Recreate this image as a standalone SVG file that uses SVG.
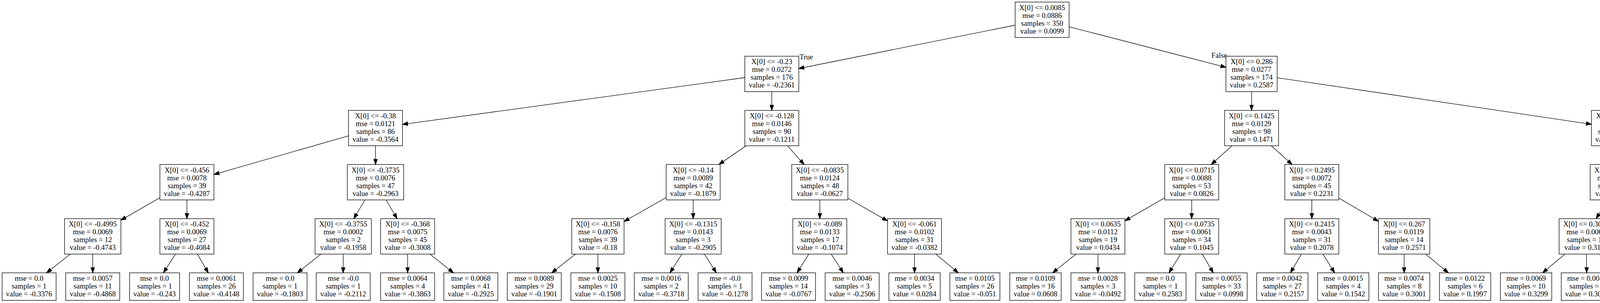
<svg xmlns="http://www.w3.org/2000/svg" width="5061" height="776" viewBox="0 0 5061 776">
<style>
.n rect{fill:none;stroke:#000;stroke-width:1.33}
.n text{font-family:"Liberation Serif","Times New Roman",serif;font-size:18.67px;text-anchor:middle;fill:#000}
.lbl{font-family:"Liberation Serif","Times New Roman",serif;font-size:18.67px;text-anchor:middle;fill:#000}
#edges line{stroke:#000;stroke-width:1.33;fill:none;marker-end:url(#ah)}
</style>
<defs>
<marker id="ah" markerUnits="userSpaceOnUse" markerWidth="16" markerHeight="12" refX="13.33" refY="4.67" orient="auto" overflow="visible">
<path d="M0,0 L13.33,4.67 L0,9.33 Z" fill="#000" stroke="#000" stroke-width="1.33"/>
</marker>
</defs>
<rect x="0" y="0" width="5061" height="776" fill="#fff"/>
<g id="edges">
<line x1="2598.7" y1="64.5" x2="2044.9" y2="175.5"/>
<line x1="2736.9" y1="68.54" x2="3138.45" y2="172.38"/>
<line x1="1906.7" y1="198.77" x2="1030.4" y2="318.56"/>
<line x1="1975.8" y1="234.67" x2="1975.8" y2="282.67"/>
<line x1="3204" y1="234.67" x2="3204" y2="282.67"/>
<line x1="3269.55" y1="199.04" x2="4074.05" y2="318.24"/>
<line x1="892.2" y1="347.85" x2="547.6" y2="446.82"/>
<line x1="961.3" y1="373.33" x2="961.3" y2="421.33"/>
<line x1="1910" y1="373.33" x2="1840.3" y2="421.33"/>
<line x1="2015.98" y1="373.33" x2="2058.5" y2="421.33"/>
<line x1="3153.9" y1="373.33" x2="3100.8" y2="421.33"/>
<line x1="3254.4" y1="373.33" x2="3307.9" y2="421.33"/>
<line x1="4139.9" y1="373.33" x2="4139.9" y2="421.33"/>
<line x1="4205.75" y1="347.65" x2="4535.4" y2="446.05"/>
<line x1="409.4" y1="506.41" x2="309.5" y2="563.87"/>
<line x1="478.5" y1="512" x2="478.5" y2="560"/>
<line x1="934.27" y1="512" x2="905.63" y2="560"/>
<line x1="988.17" y1="512" x2="1016.63" y2="560"/>
<line x1="1705.4" y1="505.96" x2="1597.55" y2="567.27"/>
<line x1="1774.5" y1="512" x2="1774.5" y2="560"/>
<line x1="2098.7" y1="512" x2="2098.7" y2="560"/>
<line x1="2170.55" y1="507.76" x2="2272.1" y2="565.8"/>
<line x1="2981.6" y1="506.6" x2="2879.8" y2="565.4"/>
<line x1="3050.7" y1="512" x2="3050.7" y2="560"/>
<line x1="3358.3" y1="512" x2="3358.3" y2="560"/>
<line x1="3427.4" y1="507.22" x2="3528.8" y2="566.71"/>
<line x1="4113.94" y1="512" x2="4086.46" y2="560"/>
<line x1="4165.92" y1="512" x2="4193.48" y2="560"/>
<line x1="4604.5" y1="512" x2="4604.5" y2="560"/>
<line x1="4673.6" y1="507.41" x2="4770.6" y2="564.59"/>
<line x1="180" y1="650.67" x2="119.23" y2="698.67"/>
<line x1="237.4" y1="650.67" x2="237.4" y2="698.67"/>
<line x1="449.33" y1="650.67" x2="418.44" y2="698.67"/>
<line x1="505.1" y1="650.67" x2="533.27" y2="698.67"/>
<line x1="821.63" y1="650.67" x2="761.3" y2="698.67"/>
<line x1="878.6" y1="650.67" x2="878.6" y2="698.67"/>
<line x1="1043.5" y1="650.67" x2="1043.5" y2="698.67"/>
<line x1="1100.54" y1="650.67" x2="1160.94" y2="698.67"/>
<line x1="1473.2" y1="650.67" x2="1412.4" y2="698.67"/>
<line x1="1530.6" y1="650.67" x2="1530.6" y2="698.67"/>
<line x1="1745.72" y1="650.67" x2="1715.23" y2="698.67"/>
<line x1="1803.28" y1="650.67" x2="1833.77" y2="698.67"/>
<line x1="2070.48" y1="650.67" x2="2040.6" y2="698.67"/>
<line x1="2127.87" y1="650.67" x2="2158.76" y2="698.67"/>
<line x1="2341.2" y1="650.67" x2="2341.2" y2="698.67"/>
<line x1="2395.63" y1="650.67" x2="2453.27" y2="698.67"/>
<line x1="2754.37" y1="650.67" x2="2694.71" y2="698.67"/>
<line x1="2810.7" y1="650.67" x2="2810.7" y2="698.67"/>
<line x1="3022.48" y1="650.67" x2="2992.6" y2="698.67"/>
<line x1="3077.58" y1="650.67" x2="3106.05" y2="698.67"/>
<line x1="3331.7" y1="650.67" x2="3303.53" y2="698.67"/>
<line x1="3386.63" y1="650.67" x2="3416.62" y2="698.67"/>
<line x1="3594.6" y1="650.67" x2="3594.6" y2="698.67"/>
<line x1="3649.59" y1="650.67" x2="3707.83" y2="698.67"/>
<line x1="4006.35" y1="650.67" x2="3949.01" y2="698.67"/>
<line x1="4061.2" y1="650.67" x2="4061.95" y2="698.67"/>
<line x1="4219.5" y1="650.67" x2="4219.5" y2="698.67"/>
<line x1="4274.35" y1="650.67" x2="4332.44" y2="698.67"/>
<line x1="4578.71" y1="650.67" x2="4551.4" y2="698.67"/>
<line x1="4633.78" y1="650.67" x2="4664.78" y2="698.67"/>
<line x1="4839.7" y1="650.67" x2="4839.7" y2="698.67"/>
<line x1="4893" y1="650.67" x2="4949.45" y2="698.67"/>
<text class="lbl" x="2064" y="152">True</text>
<text class="lbl" x="3121" y="148">False</text>
</g>
<g id="n0" class="n" transform="translate(2667.8,5.33)"><rect x="-69.1" y="0" width="138.2" height="90.67"/><text x="0" y="20.27">X[0] &lt;= 0.0085</text><text x="0" y="40.27">mse = 0.0886</text><text x="0" y="60.27">samples = 350</text><text x="0" y="80.27">value = 0.0099</text></g>
<g id="n1" class="n" transform="translate(1975.8,144)"><rect x="-69.1" y="0" width="138.2" height="90.67"/><text x="0" y="20.27">X[0] &lt;= -0.23</text><text x="0" y="40.27">mse = 0.0272</text><text x="0" y="60.27">samples = 176</text><text x="0" y="80.27">value = -0.2361</text></g>
<g id="n2" class="n" transform="translate(961.3,282.67)"><rect x="-69.1" y="0" width="138.2" height="90.67"/><text x="0" y="20.27">X[0] &lt;= -0.38</text><text x="0" y="40.27">mse = 0.0121</text><text x="0" y="60.27">samples = 86</text><text x="0" y="80.27">value = -0.3564</text></g>
<g id="n3" class="n" transform="translate(478.5,421.33)"><rect x="-69.1" y="0" width="138.2" height="90.67"/><text x="0" y="20.27">X[0] &lt;= -0.456</text><text x="0" y="40.27">mse = 0.0078</text><text x="0" y="60.27">samples = 39</text><text x="0" y="80.27">value = -0.4287</text></g>
<g id="n4" class="n" transform="translate(237.4,560)"><rect x="-72.1" y="0" width="144.2" height="90.67"/><text x="0" y="20.27">X[0] &lt;= -0.4995</text><text x="0" y="40.27">mse = 0.0069</text><text x="0" y="60.27">samples = 12</text><text x="0" y="80.27">value = -0.4743</text></g>
<g id="n5" class="n" transform="translate(74.5,698.67)"><rect x="-69.1" y="0" width="138.2" height="70.67"/><text x="0" y="20.27">mse = 0.0</text><text x="0" y="40.27">samples = 1</text><text x="0" y="60.27">value = -0.3376</text></g>
<g id="n6" class="n" transform="translate(237.4,698.67)"><rect x="-69.1" y="0" width="138.2" height="70.67"/><text x="0" y="20.27">mse = 0.0057</text><text x="0" y="40.27">samples = 11</text><text x="0" y="60.27">value = -0.4868</text></g>
<g id="n7" class="n" transform="translate(478.5,560)"><rect x="-69.1" y="0" width="138.2" height="90.67"/><text x="0" y="20.27">X[0] &lt;= -0.452</text><text x="0" y="40.27">mse = 0.0069</text><text x="0" y="60.27">samples = 27</text><text x="0" y="80.27">value = -0.4084</text></g>
<g id="n8" class="n" transform="translate(395.7,698.67)"><rect x="-64" y="0" width="128" height="70.67"/><text x="0" y="20.27">mse = 0.0</text><text x="0" y="40.27">samples = 1</text><text x="0" y="60.27">value = -0.243</text></g>
<g id="n9" class="n" transform="translate(554,698.67)"><rect x="-69.1" y="0" width="138.2" height="70.67"/><text x="0" y="20.27">mse = 0.0061</text><text x="0" y="40.27">samples = 26</text><text x="0" y="60.27">value = -0.4148</text></g>
<g id="n10" class="n" transform="translate(961.3,421.33)"><rect x="-72.1" y="0" width="144.2" height="90.67"/><text x="0" y="20.27">X[0] &lt;= -0.3735</text><text x="0" y="40.27">mse = 0.0076</text><text x="0" y="60.27">samples = 47</text><text x="0" y="80.27">value = -0.2963</text></g>
<g id="n11" class="n" transform="translate(878.6,560)"><rect x="-72.1" y="0" width="144.2" height="90.67"/><text x="0" y="20.27">X[0] &lt;= -0.3755</text><text x="0" y="40.27">mse = 0.0002</text><text x="0" y="60.27">samples = 2</text><text x="0" y="80.27">value = -0.1958</text></g>
<g id="n12" class="n" transform="translate(716.9,698.67)"><rect x="-69.1" y="0" width="138.2" height="70.67"/><text x="0" y="20.27">mse = 0.0</text><text x="0" y="40.27">samples = 1</text><text x="0" y="60.27">value = -0.1803</text></g>
<g id="n13" class="n" transform="translate(878.6,698.67)"><rect x="-69.1" y="0" width="138.2" height="70.67"/><text x="0" y="20.27">mse = -0.0</text><text x="0" y="40.27">samples = 1</text><text x="0" y="60.27">value = -0.2112</text></g>
<g id="n14" class="n" transform="translate(1043.5,560)"><rect x="-69.1" y="0" width="138.2" height="90.67"/><text x="0" y="20.27">X[0] &lt;= -0.368</text><text x="0" y="40.27">mse = 0.0075</text><text x="0" y="60.27">samples = 45</text><text x="0" y="80.27">value = -0.3008</text></g>
<g id="n15" class="n" transform="translate(1043.5,698.67)"><rect x="-69.1" y="0" width="138.2" height="70.67"/><text x="0" y="20.27">mse = 0.0064</text><text x="0" y="40.27">samples = 4</text><text x="0" y="60.27">value = -0.3863</text></g>
<g id="n16" class="n" transform="translate(1205.4,698.67)"><rect x="-69.1" y="0" width="138.2" height="70.67"/><text x="0" y="20.27">mse = 0.0068</text><text x="0" y="40.27">samples = 41</text><text x="0" y="60.27">value = -0.2925</text></g>
<g id="n17" class="n" transform="translate(1975.8,282.67)"><rect x="-69.1" y="0" width="138.2" height="90.67"/><text x="0" y="20.27">X[0] &lt;= -0.128</text><text x="0" y="40.27">mse = 0.0146</text><text x="0" y="60.27">samples = 90</text><text x="0" y="80.27">value = -0.1211</text></g>
<g id="n18" class="n" transform="translate(1774.5,421.33)"><rect x="-69.1" y="0" width="138.2" height="90.67"/><text x="0" y="20.27">X[0] &lt;= -0.14</text><text x="0" y="40.27">mse = 0.0089</text><text x="0" y="60.27">samples = 42</text><text x="0" y="80.27">value = -0.1879</text></g>
<g id="n19" class="n" transform="translate(1530.6,560)"><rect x="-66.95" y="0" width="133.9" height="90.67"/><text x="0" y="20.27">X[0] &lt;= -0.158</text><text x="0" y="40.27">mse = 0.0076</text><text x="0" y="60.27">samples = 39</text><text x="0" y="80.27">value = -0.18</text></g>
<g id="n20" class="n" transform="translate(1367.7,698.67)"><rect x="-69.1" y="0" width="138.2" height="70.67"/><text x="0" y="20.27">mse = 0.0089</text><text x="0" y="40.27">samples = 29</text><text x="0" y="60.27">value = -0.1901</text></g>
<g id="n21" class="n" transform="translate(1530.6,698.67)"><rect x="-69.1" y="0" width="138.2" height="70.67"/><text x="0" y="20.27">mse = 0.0025</text><text x="0" y="40.27">samples = 10</text><text x="0" y="60.27">value = -0.1508</text></g>
<g id="n22" class="n" transform="translate(1774.5,560)"><rect x="-71.85" y="0" width="143.7" height="90.67"/><text x="0" y="20.27">X[0] &lt;= -0.1315</text><text x="0" y="40.27">mse = 0.0143</text><text x="0" y="60.27">samples = 3</text><text x="0" y="80.27">value = -0.2905</text></g>
<g id="n23" class="n" transform="translate(1692.8,698.67)"><rect x="-69.1" y="0" width="138.2" height="70.67"/><text x="0" y="20.27">mse = 0.0016</text><text x="0" y="40.27">samples = 2</text><text x="0" y="60.27">value = -0.3718</text></g>
<g id="n24" class="n" transform="translate(1856.2,698.67)"><rect x="-69.1" y="0" width="138.2" height="70.67"/><text x="0" y="20.27">mse = -0.0</text><text x="0" y="40.27">samples = 1</text><text x="0" y="60.27">value = -0.1278</text></g>
<g id="n25" class="n" transform="translate(2098.7,421.33)"><rect x="-71.85" y="0" width="143.7" height="90.67"/><text x="0" y="20.27">X[0] &lt;= -0.0835</text><text x="0" y="40.27">mse = 0.0124</text><text x="0" y="60.27">samples = 48</text><text x="0" y="80.27">value = -0.0627</text></g>
<g id="n26" class="n" transform="translate(2098.7,560)"><rect x="-69.1" y="0" width="138.2" height="90.67"/><text x="0" y="20.27">X[0] &lt;= -0.089</text><text x="0" y="40.27">mse = 0.0133</text><text x="0" y="60.27">samples = 17</text><text x="0" y="80.27">value = -0.1074</text></g>
<g id="n27" class="n" transform="translate(2018.6,698.67)"><rect x="-69.1" y="0" width="138.2" height="70.67"/><text x="0" y="20.27">mse = 0.0099</text><text x="0" y="40.27">samples = 14</text><text x="0" y="60.27">value = -0.0767</text></g>
<g id="n28" class="n" transform="translate(2181.5,698.67)"><rect x="-69.1" y="0" width="138.2" height="70.67"/><text x="0" y="20.27">mse = 0.0046</text><text x="0" y="40.27">samples = 3</text><text x="0" y="60.27">value = -0.2506</text></g>
<g id="n29" class="n" transform="translate(2341.2,560)"><rect x="-69.1" y="0" width="138.2" height="90.67"/><text x="0" y="20.27">X[0] &lt;= -0.061</text><text x="0" y="40.27">mse = 0.0102</text><text x="0" y="60.27">samples = 31</text><text x="0" y="80.27">value = -0.0382</text></g>
<g id="n30" class="n" transform="translate(2341.2,698.67)"><rect x="-65.7" y="0" width="131.4" height="70.67"/><text x="0" y="20.27">mse = 0.0034</text><text x="0" y="40.27">samples = 5</text><text x="0" y="60.27">value = 0.0284</text></g>
<g id="n31" class="n" transform="translate(2495.7,698.67)"><rect x="-64.05" y="0" width="128.1" height="70.67"/><text x="0" y="20.27">mse = 0.0105</text><text x="0" y="40.27">samples = 26</text><text x="0" y="60.27">value = -0.051</text></g>
<g id="n32" class="n" transform="translate(3204,144)"><rect x="-65.55" y="0" width="131.1" height="90.67"/><text x="0" y="20.27">X[0] &lt;= 0.286</text><text x="0" y="40.27">mse = 0.0277</text><text x="0" y="60.27">samples = 174</text><text x="0" y="80.27">value = 0.2587</text></g>
<g id="n33" class="n" transform="translate(3204,282.67)"><rect x="-69.1" y="0" width="138.2" height="90.67"/><text x="0" y="20.27">X[0] &lt;= 0.1425</text><text x="0" y="40.27">mse = 0.0129</text><text x="0" y="60.27">samples = 98</text><text x="0" y="80.27">value = 0.1471</text></g>
<g id="n34" class="n" transform="translate(3050.7,421.33)"><rect x="-69.1" y="0" width="138.2" height="90.67"/><text x="0" y="20.27">X[0] &lt;= 0.0715</text><text x="0" y="40.27">mse = 0.0088</text><text x="0" y="60.27">samples = 53</text><text x="0" y="80.27">value = 0.0826</text></g>
<g id="n35" class="n" transform="translate(2810.7,560)"><rect x="-69.1" y="0" width="138.2" height="90.67"/><text x="0" y="20.27">X[0] &lt;= 0.0635</text><text x="0" y="40.27">mse = 0.0112</text><text x="0" y="60.27">samples = 19</text><text x="0" y="80.27">value = 0.0434</text></g>
<g id="n36" class="n" transform="translate(2650.8,698.67)"><rect x="-65.8" y="0" width="131.6" height="70.67"/><text x="0" y="20.27">mse = 0.0109</text><text x="0" y="40.27">samples = 16</text><text x="0" y="60.27">value = 0.0608</text></g>
<g id="n37" class="n" transform="translate(2810.7,698.67)"><rect x="-69.1" y="0" width="138.2" height="70.67"/><text x="0" y="20.27">mse = 0.0028</text><text x="0" y="40.27">samples = 3</text><text x="0" y="60.27">value = -0.0492</text></g>
<g id="n38" class="n" transform="translate(3050.7,560)"><rect x="-69.1" y="0" width="138.2" height="90.67"/><text x="0" y="20.27">X[0] &lt;= 0.0735</text><text x="0" y="40.27">mse = 0.0061</text><text x="0" y="60.27">samples = 34</text><text x="0" y="80.27">value = 0.1045</text></g>
<g id="n39" class="n" transform="translate(2970.6,698.67)"><rect x="-65.7" y="0" width="131.4" height="70.67"/><text x="0" y="20.27">mse = 0.0</text><text x="0" y="40.27">samples = 1</text><text x="0" y="60.27">value = 0.2583</text></g>
<g id="n40" class="n" transform="translate(3127,698.67)"><rect x="-65.7" y="0" width="131.4" height="70.67"/><text x="0" y="20.27">mse = 0.0055</text><text x="0" y="40.27">samples = 33</text><text x="0" y="60.27">value = 0.0998</text></g>
<g id="n41" class="n" transform="translate(3358.3,421.33)"><rect x="-69.1" y="0" width="138.2" height="90.67"/><text x="0" y="20.27">X[0] &lt;= 0.2495</text><text x="0" y="40.27">mse = 0.0072</text><text x="0" y="60.27">samples = 45</text><text x="0" y="80.27">value = 0.2231</text></g>
<g id="n42" class="n" transform="translate(3358.3,560)"><rect x="-69.1" y="0" width="138.2" height="90.67"/><text x="0" y="20.27">X[0] &lt;= 0.2415</text><text x="0" y="40.27">mse = 0.0043</text><text x="0" y="60.27">samples = 31</text><text x="0" y="80.27">value = 0.2078</text></g>
<g id="n43" class="n" transform="translate(3282.8,698.67)"><rect x="-65.7" y="0" width="131.4" height="70.67"/><text x="0" y="20.27">mse = 0.0042</text><text x="0" y="40.27">samples = 27</text><text x="0" y="60.27">value = 0.2157</text></g>
<g id="n44" class="n" transform="translate(3438.7,698.67)"><rect x="-65.7" y="0" width="131.4" height="70.67"/><text x="0" y="20.27">mse = 0.0015</text><text x="0" y="40.27">samples = 4</text><text x="0" y="60.27">value = 0.1542</text></g>
<g id="n45" class="n" transform="translate(3594.6,560)"><rect x="-65.8" y="0" width="131.6" height="90.67"/><text x="0" y="20.27">X[0] &lt;= 0.267</text><text x="0" y="40.27">mse = 0.0119</text><text x="0" y="60.27">samples = 14</text><text x="0" y="80.27">value = 0.2571</text></g>
<g id="n46" class="n" transform="translate(3594.6,698.67)"><rect x="-65.7" y="0" width="131.4" height="70.67"/><text x="0" y="20.27">mse = 0.0074</text><text x="0" y="40.27">samples = 8</text><text x="0" y="60.27">value = 0.3001</text></g>
<g id="n47" class="n" transform="translate(3750.7,698.67)"><rect x="-65.7" y="0" width="131.4" height="70.67"/><text x="0" y="20.27">mse = 0.0122</text><text x="0" y="40.27">samples = 6</text><text x="0" y="60.27">value = 0.1997</text></g>
<g id="n48" class="n" transform="translate(4139.9,282.67)"><rect x="-65.85" y="0" width="131.7" height="90.67"/><text x="0" y="20.27">X[0] &lt;= 0.398</text><text x="0" y="40.27">mse = 0.01</text><text x="0" y="60.27">samples = 76</text><text x="0" y="80.27">value = 0.4025</text></g>
<g id="n49" class="n" transform="translate(4139.9,421.33)"><rect x="-69.1" y="0" width="138.2" height="90.67"/><text x="0" y="20.27">X[0] &lt;= 0.3255</text><text x="0" y="40.27">mse = 0.0064</text><text x="0" y="60.27">samples = 42</text><text x="0" y="80.27">value = 0.3526</text></g>
<g id="n50" class="n" transform="translate(4060.5,560)"><rect x="-69.1" y="0" width="138.2" height="90.67"/><text x="0" y="20.27">X[0] &lt;= 0.3095</text><text x="0" y="40.27">mse = 0.0063</text><text x="0" y="60.27">samples = 16</text><text x="0" y="80.27">value = 0.3188</text></g>
<g id="n51" class="n" transform="translate(3906.8,698.67)"><rect x="-65.7" y="0" width="131.4" height="70.67"/><text x="0" y="20.27">mse = 0.0069</text><text x="0" y="40.27">samples = 10</text><text x="0" y="60.27">value = 0.3299</text></g>
<g id="n52" class="n" transform="translate(4062.5,698.67)"><rect x="-65.7" y="0" width="131.4" height="70.67"/><text x="0" y="20.27">mse = 0.0048</text><text x="0" y="40.27">samples = 6</text><text x="0" y="60.27">value = 0.3003</text></g>
<g id="n53" class="n" transform="translate(4219.5,560)"><rect x="-65.75" y="0" width="131.5" height="90.67"/><text x="0" y="20.27">X[0] &lt;= 0.382</text><text x="0" y="40.27">mse = 0.0053</text><text x="0" y="60.27">samples = 26</text><text x="0" y="80.27">value = 0.3734</text></g>
<g id="n54" class="n" transform="translate(4219.5,698.67)"><rect x="-65.7" y="0" width="131.4" height="70.67"/><text x="0" y="20.27">mse = 0.0047</text><text x="0" y="40.27">samples = 22</text><text x="0" y="60.27">value = 0.3879</text></g>
<g id="n55" class="n" transform="translate(4375.2,698.67)"><rect x="-65.7" y="0" width="131.4" height="70.67"/><text x="0" y="20.27">mse = 0.0013</text><text x="0" y="40.27">samples = 4</text><text x="0" y="60.27">value = 0.2938</text></g>
<g id="n56" class="n" transform="translate(4604.5,421.33)"><rect x="-69.1" y="0" width="138.2" height="90.67"/><text x="0" y="20.27">X[0] &lt;= 0.4555</text><text x="0" y="40.27">mse = 0.0075</text><text x="0" y="60.27">samples = 34</text><text x="0" y="80.27">value = 0.4642</text></g>
<g id="n57" class="n" transform="translate(4604.5,560)"><rect x="-65.95" y="0" width="131.9" height="90.67"/><text x="0" y="20.27">X[0] &lt;= 0.444</text><text x="0" y="40.27">mse = 0.0081</text><text x="0" y="60.27">samples = 23</text><text x="0" y="80.27">value = 0.4443</text></g>
<g id="n58" class="n" transform="translate(4531.3,698.67)"><rect x="-65.7" y="0" width="131.4" height="70.67"/><text x="0" y="20.27">mse = 0.0077</text><text x="0" y="40.27">samples = 18</text><text x="0" y="60.27">value = 0.4653</text></g>
<g id="n59" class="n" transform="translate(4687.6,698.67)"><rect x="-65.7" y="0" width="131.4" height="70.67"/><text x="0" y="20.27">mse = 0.0023</text><text x="0" y="40.27">samples = 5</text><text x="0" y="60.27">value = 0.3686</text></g>
<g id="n60" class="n" transform="translate(4839.7,560)"><rect x="-69.1" y="0" width="138.2" height="90.67"/><text x="0" y="20.27">X[0] &lt;= 0.4805</text><text x="0" y="40.27">mse = 0.0036</text><text x="0" y="60.27">samples = 11</text><text x="0" y="80.27">value = 0.5058</text></g>
<g id="n61" class="n" transform="translate(4839.7,698.67)"><rect x="-61.8" y="0" width="123.6" height="70.67"/><text x="0" y="20.27">mse = 0.0019</text><text x="0" y="40.27">samples = 5</text><text x="0" y="60.27">value = 0.537</text></g>
<g id="n62" class="n" transform="translate(4991,698.67)"><rect x="-65.7" y="0" width="131.4" height="70.67"/><text x="0" y="20.27">mse = 0.0035</text><text x="0" y="40.27">samples = 6</text><text x="0" y="60.27">value = 0.4799</text></g>
</svg>
